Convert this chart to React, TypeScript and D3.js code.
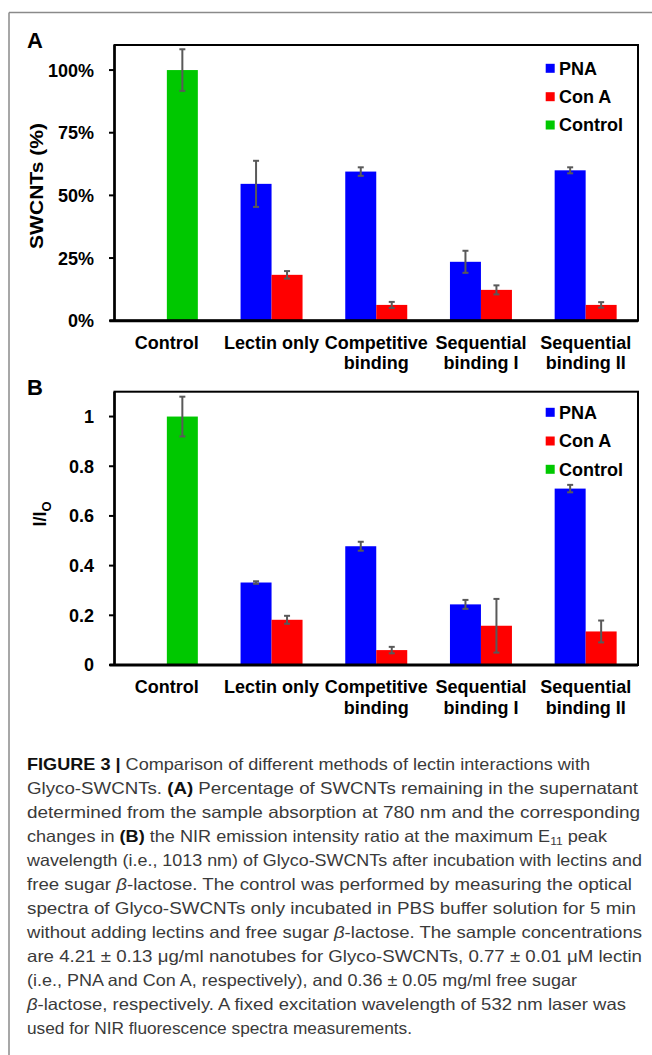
import React from "react";
import * as d3 from "d3";

// ---------- DATA ----------
const categories = ["Control", "Lectin only", "Competitive binding", "Sequential binding I", "Sequential binding II"];
const categoryLines = [["Control"], ["Lectin only"], ["Competitive", "binding"], ["Sequential", "binding I"], ["Sequential", "binding II"]];
const seriesNames = ["PNA", "Con A", "Control"];
const seriesColors = ["#0000FF", "#FF0000", "#00C800"];

// Panel A: fraction of SWCNTs remaining
const pnaA = [null, 0.546, 0.595, 0.235, 0.6];
const pnaAErr = [null, 0.092, 0.017, 0.044, 0.012];
const conAA = [null, 0.183, 0.063, 0.123, 0.063];
const conAAErr = [null, 0.015, 0.012, 0.018, 0.011];
const controlA = [1.0, null, null, null, null];
const controlAErr = [0.083, null, null, null, null];
const ticksA = [0, 0.25, 0.5, 0.75, 1.0];
const tickLabelsA = ["0%", "25%", "50%", "75%", "100%"];

// Panel B: I/I0
const pnaB = [null, 0.332, 0.478, 0.244, 0.71];
const pnaBErr = [null, 0.005, 0.018, 0.018, 0.015];
const conAB = [null, 0.182, 0.06, 0.158, 0.135];
const conABErr = [null, 0.016, 0.013, 0.108, 0.044];
const controlB = [1.0, null, null, null, null];
const controlBErr = [0.08, null, null, null, null];
const ticksB = [0, 0.2, 0.4, 0.6, 0.8, 1.0];
const tickLabelsB = ["0", "0.2", "0.4", "0.6", "0.8", "1"];

type Seg = { t: string; b?: boolean; i?: boolean; sub?: boolean };
const captionLines: Seg[][] = [
  [{ t: "FIGURE 3 | ", b: true }, { t: "Comparison of different methods of lectin interactions with" }],
  [{ t: "Glyco-SWCNTs. " }, { t: "(A)", b: true }, { t: " Percentage of SWCNTs remaining in the supernatant" }],
  [{ t: "determined from the sample absorption at 780 nm and the corresponding" }],
  [{ t: "changes in " }, { t: "(B)", b: true }, { t: " the NIR emission intensity ratio at the maximum E" }, { t: "11", sub: true }, { t: " peak" }],
  [{ t: "wavelength (i.e., 1013 nm) of Glyco-SWCNTs after incubation with lectins and" }],
  [{ t: "free sugar " }, { t: "β", i: true }, { t: "-lactose. The control was performed by measuring the optical" }],
  [{ t: "spectra of Glyco-SWCNTs only incubated in PBS buffer solution for 5 min" }],
  [{ t: "without adding lectins and free sugar " }, { t: "β", i: true }, { t: "-lactose. The sample concentrations" }],
  [{ t: "are 4.21 ± 0.13 μg/ml nanotubes for Glyco-SWCNTs, 0.77 ± 0.01 μM lectin" }],
  [{ t: "(i.e., PNA and Con A, respectively), and 0.36 ± 0.05 mg/ml free sugar" }],
  [{ t: "β", i: true }, { t: "-lactose, respectively. A fixed excitation wavelength of 532 nm laser was" }],
  [{ t: "used for NIR fluorescence spectra measurements." }],
];
const captionLineEnds = [590, 638, 640, 607, 642, 632, 636, 642, 642, 577, 626, 412];

// ---------- LAYOUT ----------
const W = 652, H = 1055;
const plotL = 114.5, plotR = 638;
const FONT = "'Liberation Sans', Arial, Helvetica, sans-serif";

const x0 = d3.scaleBand<string>().domain(categories).range([plotL, plotR]).paddingInner(0.408).paddingOuter(0.204);
const x1 = d3.scaleBand<string>().domain(["PNA", "Con A"]).range([0, x0.bandwidth()]);

type PanelProps = {
  letter: string;
  top: number;
  bottom: number;
  ticks: number[];
  tickLabels: string[];
  pna: (number | null)[];
  pnaErr: (number | null)[];
  conA: (number | null)[];
  conAErr: (number | null)[];
  control: (number | null)[];
  controlErr: (number | null)[];
  yTitle: React.ReactNode;
  yTitleX: number;
  yTitleY: number;
  yTitleLen?: number;
  legendYs: number[];
};

function Panel(p: PanelProps) {
  const y = d3.scaleLinear().domain([0, 1.1]).range([p.bottom, p.top]);
  const bw = x1.bandwidth();
  const bars: { x: number; v: number; e: number | null; color: string }[] = [];
  categories.forEach((c, i) => {
    const base = x0(c)!;
    if (p.pna[i] != null) bars.push({ x: base + x1("PNA")!, v: p.pna[i]!, e: p.pnaErr[i], color: seriesColors[0] });
    if (p.conA[i] != null) bars.push({ x: base + x1("Con A")!, v: p.conA[i]!, e: p.conAErr[i], color: seriesColors[1] });
    if (p.control[i] != null) bars.push({ x: base + x1("Con A")!, v: p.control[i]!, e: p.controlErr[i], color: seriesColors[2] });
  });
  return (
    <g>
      <text x={27} y={p.top + 3} fontFamily={FONT} fontWeight="bold" fontSize={22} fill="#000">{p.letter}</text>
      {bars.map((b, k) => (
        <rect key={k} x={b.x} y={y(b.v)} width={bw} height={y(0) - y(b.v)} fill={b.color} />
      ))}
      {bars.map((b, k) =>
        b.e == null ? null : (
          <g key={"e" + k} stroke="#595959" strokeWidth={2}>
            <line x1={b.x + bw / 2} x2={b.x + bw / 2} y1={y(b.v + b.e)} y2={y(b.v - b.e)} />
            <line x1={b.x + bw / 2 - 3} x2={b.x + bw / 2 + 3} y1={y(b.v + b.e)} y2={y(b.v + b.e)} />
            <line x1={b.x + bw / 2 - 3} x2={b.x + bw / 2 + 3} y1={y(b.v - b.e)} y2={y(b.v - b.e)} />
          </g>
        )
      )}
      <rect x={plotL} y={p.top} width={plotR - plotL} height={p.bottom - p.top} fill="none" stroke="#000" strokeWidth={2} />
      <line x1={plotL} x2={plotL} y1={p.top} y2={p.bottom} stroke="#000" strokeWidth={2.5} />
      <line x1={plotL - 5} x2={plotR} y1={p.bottom} y2={p.bottom} stroke="#000" strokeWidth={3} />
      {p.ticks.map((t, i) => (
        <g key={"t" + i}>
          <line x1={plotL - 5.5} x2={plotL} y1={y(t)} y2={y(t)} stroke="#000" strokeWidth={2} />
          <text x={94} y={y(t)} dy="0.36em" textAnchor="end" fontFamily={FONT} fontWeight="bold" fontSize={18} fill="#000">
            {p.tickLabels[i]}
          </text>
        </g>
      ))}
      <text transform={`translate(${p.yTitleX},${p.yTitleY}) rotate(-90)`} textAnchor="middle" dy="0.36em" fontFamily={FONT} fontWeight="bold" fontSize={18} fill="#000"
        textLength={p.yTitleLen} lengthAdjust={p.yTitleLen ? "spacingAndGlyphs" : undefined}>
        {p.yTitle}
      </text>
      {categories.map((c, i) => (
        <text key={"x" + i} x={x0(c)! + x0.bandwidth() / 2} y={p.bottom + 28} textAnchor="middle" fontFamily={FONT} fontWeight="bold" fontSize={18} fill="#000">
          {categoryLines[i].map((ln, j) => (
            <tspan key={j} x={x0(c)! + x0.bandwidth() / 2} dy={j === 0 ? 0 : 20.5}>{ln}</tspan>
          ))}
        </text>
      ))}
      {seriesNames.map((s, i) => (
        <g key={"l" + i}>
          <rect x={545.7} y={p.legendYs[i] - 4.5} width={9} height={9} fill={seriesColors[i]} />
          <text x={559} y={p.legendYs[i]} dy="0.36em" fontFamily={FONT} fontWeight="bold" fontSize={18} fill="#000">{s}</text>
        </g>
      ))}
    </g>
  );
}

export default function App() {
  const capBase = 770;
  const capStep = 24.0;
  return (
    <svg width={W} height={H} viewBox={`0 0 ${W} ${H}`} style={{ position: "absolute", left: 0, top: 0, background: "#fff" }}>
      <rect x={0} y={0} width={W} height={H} fill="#fff" />
      <line x1={9} x2={W} y1={12.5} y2={12.5} stroke="#8a8a8a" strokeWidth={1.5} />
      <line x1={9} x2={9} y1={12.5} y2={H} stroke="#8a8a8a" strokeWidth={1.5} />
      <Panel
        letter="A" top={45} bottom={320.7}
        ticks={ticksA} tickLabels={tickLabelsA}
        pna={pnaA} pnaErr={pnaAErr} conA={conAA} conAErr={conAAErr} control={controlA} controlErr={controlAErr}
        yTitle="SWCNTs (%)" yTitleX={37} yTitleY={186} yTitleLen={126}
        legendYs={[68.3, 96.7, 125]}
      />
      <Panel
        letter="B" top={391.7} bottom={665}
        ticks={ticksB} tickLabels={tickLabelsB}
        pna={pnaB} pnaErr={pnaBErr} conA={conAB} conAErr={conABErr} control={controlB} controlErr={controlBErr}
        yTitle={<><tspan>I/I</tspan><tspan fontSize={13} dy="5">O</tspan></>} yTitleX={40} yTitleY={514}
        legendYs={[412.3, 441, 469.3]}
      />
      {captionLines.map((segs, i) => (
        <text key={"c" + i} x={27} y={capBase + i * capStep} fontFamily={FONT} fontSize={16.5} fill="#3a3a3a"
          textLength={captionLineEnds[i] - 27} lengthAdjust="spacingAndGlyphs">
          {segs.map((s, j) => (
            <tspan key={j} fontWeight={s.b ? "bold" : "normal"} fontStyle={s.i ? "italic" : "normal"}
              fill={s.b ? "#111" : undefined}
              fontSize={s.sub ? 11 : undefined} baselineShift={s.sub ? "-3" : undefined}>
              {s.t}
            </tspan>
          ))}
        </text>
      ))}
    </svg>
  );
}
